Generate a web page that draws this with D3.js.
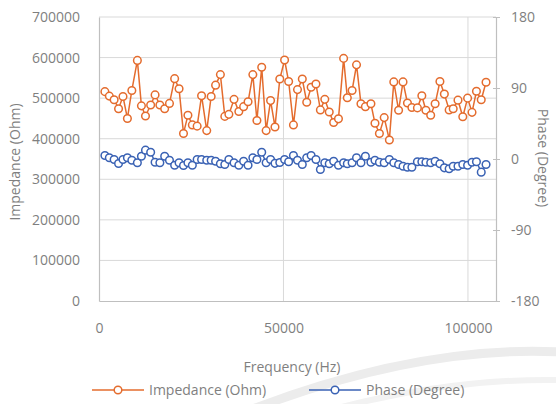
<!DOCTYPE html>
<html>
<head>
<meta charset="utf-8">
<script src="https://cdn.jsdelivr.net/npm/d3@7"></script>
<style>
  body { margin: 0; background: #fff; }
  text { font-family: "Open Sans", sans-serif; fill: #7f7f7f; }
</style>
</head>
<body>
<script>
// values
const freqHz = [1600, 2800, 4100, 5300, 6500, 7700, 8900, 10400, 11500, 12600,
  14000, 15200, 16500, 17800, 19100, 20500, 21700, 22900, 24100, 25300,
  26600, 27800, 29200, 30400, 31600, 32900, 34100, 35200, 36600, 37900,
  39200, 40400, 41700, 42800, 44100, 45300, 46500, 47700, 49000, 50300,
  51400, 52700, 53800, 55100, 56300, 57500, 58800, 60000, 61200, 62400,
  63600, 64900, 66300, 67300, 68600, 69800, 71000, 72200, 73700, 74800,
  76000, 77300, 78700, 79900, 81200, 82400, 83600, 84800, 86300, 87500,
  88600, 89900, 91100, 92400, 93600, 94900, 96000, 97300, 98600, 99900,
  101100, 102300, 103600, 104900];

const impedanceOhm = [516000, 505000, 496000, 474000, 504000, 450000, 519000, 593000, 481000, 456000,
  483000, 508000, 483000, 474000, 487000, 548000, 523000, 413000, 458000, 434000,
  431000, 506000, 420000, 504000, 532000, 558000, 455000, 460000, 497000, 467000,
  479000, 491000, 558000, 445000, 576000, 420000, 494000, 429000, 547000, 594000,
  541000, 434000, 521000, 547000, 490000, 527000, 535000, 471000, 497000, 466000,
  440000, 449000, 598000, 501000, 519000, 582000, 486000, 479000, 486000, 438000,
  413000, 452000, 397000, 540000, 470000, 540000, 488000, 477000, 476000, 506000,
  470000, 458000, 486000, 541000, 510000, 471000, 474000, 495000, 454000, 500000,
  465000, 517000, 496000, 539000];

const phaseDeg = [4.4, 1.5, -0.6, -5.7, -0.6, 1.5, -1.5, -4.8, 3.5, 11.2,
  8.6, -4.1, -4.8, 3.5, -1.5, -7.9, -4.8, -8.2, -4.8, -7.9,
  -0.6, -0.6, -1.5, -1.5, -2.8, -6.1, -7.0, -0.6, -4.8, -7.9,
  -2.8, -7.9, 1.5, -0.6, 8.6, -4.8, -0.6, -5.5, -4.4, -0.6,
  -3.5, 4.4, -1.5, -7.0, 1.5, 4.4, -0.6, -13.3, -4.8, -6.1,
  -2.8, -7.9, -4.8, -6.1, -4.8, 1.5, -4.8, 3.5, -4.1, -1.5,
  -4.1, -4.8, -0.6, -4.8, -7.0, -9.1, -10.4, -10.4, -3.5, -3.5,
  -4.1, -4.8, -2.8, -6.1, -11.2, -12.4, -9.1, -9.1, -7.0, -7.9,
  -4.1, -3.5, -16.7, -7.0];

const xTicks = [0, 50000, 100000];
const yTicksLeft = [0, 100000, 200000, 300000, 400000, 500000, 600000, 700000];
const yTicksRight = [-180, -90, 0, 90, 180];
const seriesNames = ["Impedance (Ohm)", "Phase (Degree)"];
const seriesColors = ["#e46c2e", "#3a62b4"];

const W = 556, H = 404;
const margin = {top: 17, right: 60, bottom: 103, left: 99};
const width = W - margin.left - margin.right;
const height = H - margin.top - margin.bottom;
const plain = d => String(d); // no thousands separator, ascii minus

const svg = d3.select("body").append("svg")
    .attr("width", W)
    .attr("height", H);

// faint background swoosh like the scanned page
svg.append("path")
    .attr("d", "M250,410 Q420,345 560,352")
    .attr("fill", "none")
    .attr("stroke", "#ececec")
    .attr("stroke-width", 9);
svg.append("path")
    .attr("d", "M330,410 Q450,378 560,380")
    .attr("fill", "none")
    .attr("stroke", "#f2f2f2")
    .attr("stroke-width", 6);

const g = svg.append("g")
    .attr("transform", "translate(" + margin.left + "," + margin.top + ")");

const x = d3.scaleLinear().domain([0, 107600]).range([0, width]);
const y = d3.scaleLinear().domain([0, 700000]).range([height, 0]);
const y2 = d3.scaleLinear().domain([-180, 180]).range([height, 0]);

// grid
g.selectAll("line.hgrid")
  .data(yTicksLeft.slice(1))
  .enter().append("line")
    .attr("class", "hgrid")
    .attr("x1", 0).attr("x2", width)
    .attr("y1", d => y(d)).attr("y2", d => y(d))
    .attr("stroke", "#d9d9d9").attr("stroke-width", 1);

g.selectAll("line.vgrid")
  .data(xTicks.slice(1))
  .enter().append("line")
    .attr("class", "vgrid")
    .attr("x1", d => x(d)).attr("x2", d => x(d))
    .attr("y1", 0).attr("y2", height)
    .attr("stroke", "#d9d9d9").attr("stroke-width", 1);

// axes
const xAxis = g.append("g")
    .attr("transform", "translate(0," + height + ")")
    .call(d3.axisBottom(x).tickValues(xTicks).tickFormat(plain).tickSize(0).tickPadding(22));
const yAxis = g.append("g")
    .call(d3.axisLeft(y).tickValues(yTicksLeft).tickFormat(plain).tickSize(0).tickPadding(19));
const y2Axis = g.append("g")
    .attr("transform", "translate(" + width + ",0)")
    .call(d3.axisRight(y2).tickValues(yTicksRight).tickFormat(plain).tickSize(4).tickPadding(11));

[xAxis, yAxis, y2Axis].forEach(a => {
  a.select(".domain").attr("stroke", "#bfbfbf").attr("stroke-width", 1.2);
  a.selectAll(".tick line").attr("stroke", "#bfbfbf");
  a.selectAll("text").attr("font-size", 14).attr("fill", "#7f7f7f")
    .attr("font-family", "'Open Sans', sans-serif");
});
y2Axis.selectAll(".tick line").attr("x1", -3);

// axis titles
svg.append("text")
    .attr("x", 292).attr("y", 372)
    .attr("text-anchor", "middle")
    .attr("font-size", 14)
    .text("Frequency (Hz)");
svg.append("text")
    .attr("transform", "translate(20,162) rotate(-90)")
    .attr("text-anchor", "middle")
    .attr("font-size", 14)
    .text("Impedance (Ohm)");
svg.append("text")
    .attr("transform", "translate(538,158) rotate(90)")
    .attr("text-anchor", "middle")
    .attr("font-size", 14)
    .text("Phase (Degree)");

// series
const impData = freqHz.map((f, i) => ({f: f, v: impedanceOhm[i]}));
const phData = freqHz.map((f, i) => ({f: f, v: phaseDeg[i]}));

const lineImp = d3.line().x(d => x(d.f)).y(d => y(d.v));
const linePh = d3.line().x(d => x(d.f)).y(d => y2(d.v));

function drawSeries(data, line, scale, color) {
  g.append("path")
    .datum(data)
    .attr("fill", "none")
    .attr("stroke", color)
    .attr("stroke-width", 1.5)
    .attr("d", line);
  g.append("g").selectAll("circle")
    .data(data)
    .enter().append("circle")
      .attr("cx", d => x(d.f))
      .attr("cy", d => scale(d.v))
      .attr("r", 3.8)
      .attr("fill", "#fff")
      .attr("stroke", color)
      .attr("stroke-width", 1.5);
}
drawSeries(phData, linePh, y2, seriesColors[1]);
drawSeries(impData, lineImp, y, seriesColors[0]);

// legend
const legendX = [92, 309];
const legend = svg.selectAll("g.legend")
  .data(seriesNames)
  .enter().append("g")
    .attr("class", "legend")
    .attr("transform", (d, i) => "translate(" + legendX[i] + ",390)");
legend.append("line")
    .attr("x1", 0).attr("x2", 52)
    .attr("stroke", (d, i) => seriesColors[i])
    .attr("stroke-width", 1.5);
legend.append("circle")
    .attr("cx", 26).attr("r", 3.8)
    .attr("fill", "#fff")
    .attr("stroke", (d, i) => seriesColors[i])
    .attr("stroke-width", 1.5);
legend.append("text")
    .attr("x", 57).attr("y", 5)
    .attr("font-size", 14)
    .text(d => d);
</script>
</body>
</html>
